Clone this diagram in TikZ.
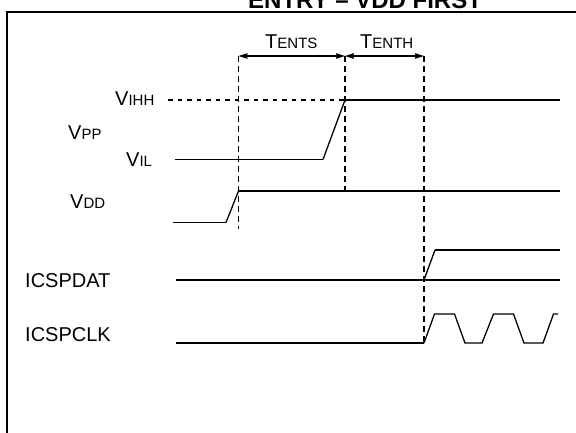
\documentclass[tikz,border=0pt]{standalone}
\usepackage{fontspec}
\setmainfont{Liberation Sans}
\usetikzlibrary{arrows.meta}
\newcommand\bigf{\fontsize{20}{24}\selectfont}
\newcommand\smf[1]{{\fontsize{15}{18}\selectfont #1}}
\begin{document}
\begin{tikzpicture}[x=1pt,y=-1pt,
  sig/.style={line width=1.8pt},
  ramp/.style={line width=1.3pt},
  vdash/.style={line width=1.8pt,dash pattern=on 6pt off 4pt},
  hdash/.style={line width=1.6pt,dash pattern=on 4.5pt off 5pt},
  lab/.style={inner sep=0pt,anchor=west,font=\bigf},
  dim/.style={line width=1.6pt,{Stealth[length=9pt,width=5.5pt,inset=1pt]}-{Stealth[length=9pt,width=5.5pt,inset=1pt]}},
  frame/.style={line width=2.4pt}]
\useasboundingbox (0,0) rectangle (576,432);
\begin{scope}
\clip (0,0) rectangle (576,432);
\node[anchor=base west,inner sep=0pt,font=\fontsize{24}{28}\selectfont\bfseries] (title) at (248,8) {ENTRY -- VDD FIRST};
\draw[frame] (7,450) -- (7,12) -- (600,12);
\end{scope}
% time markers
\coordinate (t1top) at (238.5,56);
\coordinate (t2top) at (345,56);
\coordinate (t3top) at (424,56);
\coordinate (t1bot) at (238.5,229);
\coordinate (t2bot) at (345,191);
\coordinate (t3bot) at (424,343);
% labels
\node[lab] (tents) at (265,42) {T\smf{ENTS}};
\node[lab] (tenth) at (360,42) {T\smf{ENTH}};
\node[lab] (vihh) at (115,98.5) {V\smf{IHH}};
\node[lab] (vpp) at (68,132.5) {V\smf{PP}};
\node[lab] (vil) at (126,160) {V\smf{IL}};
\node[lab] (vdd) at (70,202) {V\smf{DD}};
\node[lab] (dat) at (25,281) {ICSPDAT};
\node[lab] (clk) at (25,334.5) {ICSPCLK};
% dimension arrows
\draw[dim] (t1top) -- (t2top);
\draw[dim] (t2top) -- (t3top);
% vertical dashed lines
\draw[vdash] (t1top) -- (t1bot);
\draw[vdash] (t2top) -- (t2bot);
\draw[vdash] (t3top) -- (t3bot);
% VIHH reference
\coordinate (vihhs) at (168,100);
\coordinate (vpphi) at (345,100);
\draw[hdash] (vihhs) -- (vpphi);
% VPP
\coordinate (vpps) at (175,159.5);
\coordinate (vppr) at (323,159.5);
\coordinate (vppe) at (560,100);
\draw[sig] (vpps) -- (vppr);
\draw[ramp] (vppr) -- (vpphi);
\draw[sig] (vpphi) -- (vppe);
% VDD
\coordinate (vdds) at (173,222.5);
\coordinate (vddr) at (226,222.5);
\coordinate (vddh) at (238.5,191);
\coordinate (vdde) at (560,191);
\draw[sig] (vdds) -- (vddr);
\draw[ramp] (vddr) -- (vddh);
\draw[sig] (vddh) -- (vdde);
% ICSPDAT
\coordinate (dats) at (176,280);
\coordinate (date) at (560,280);
\coordinate (datr) at (424,280);
\coordinate (dath) at (435,250);
\coordinate (datx) at (560,250);
\draw[sig] (dats) -- (date);
\draw[ramp] (datr) -- (dath);
\draw[sig] (dath) -- (datx);
% ICSPCLK
\coordinate (clks) at (176,343);
\coordinate (clkr) at (424,343);
\draw[sig] (clks) -- (clkr);
\draw[ramp,line join=miter] (clkr) -- (434.5,314) -- (454.5,314) -- (465,343) -- (482,343)
  -- (493.5,314) -- (513.5,314) -- (524,343) -- (543,343) -- (553.5,314) -- (558,314);
\end{tikzpicture}
\end{document}
